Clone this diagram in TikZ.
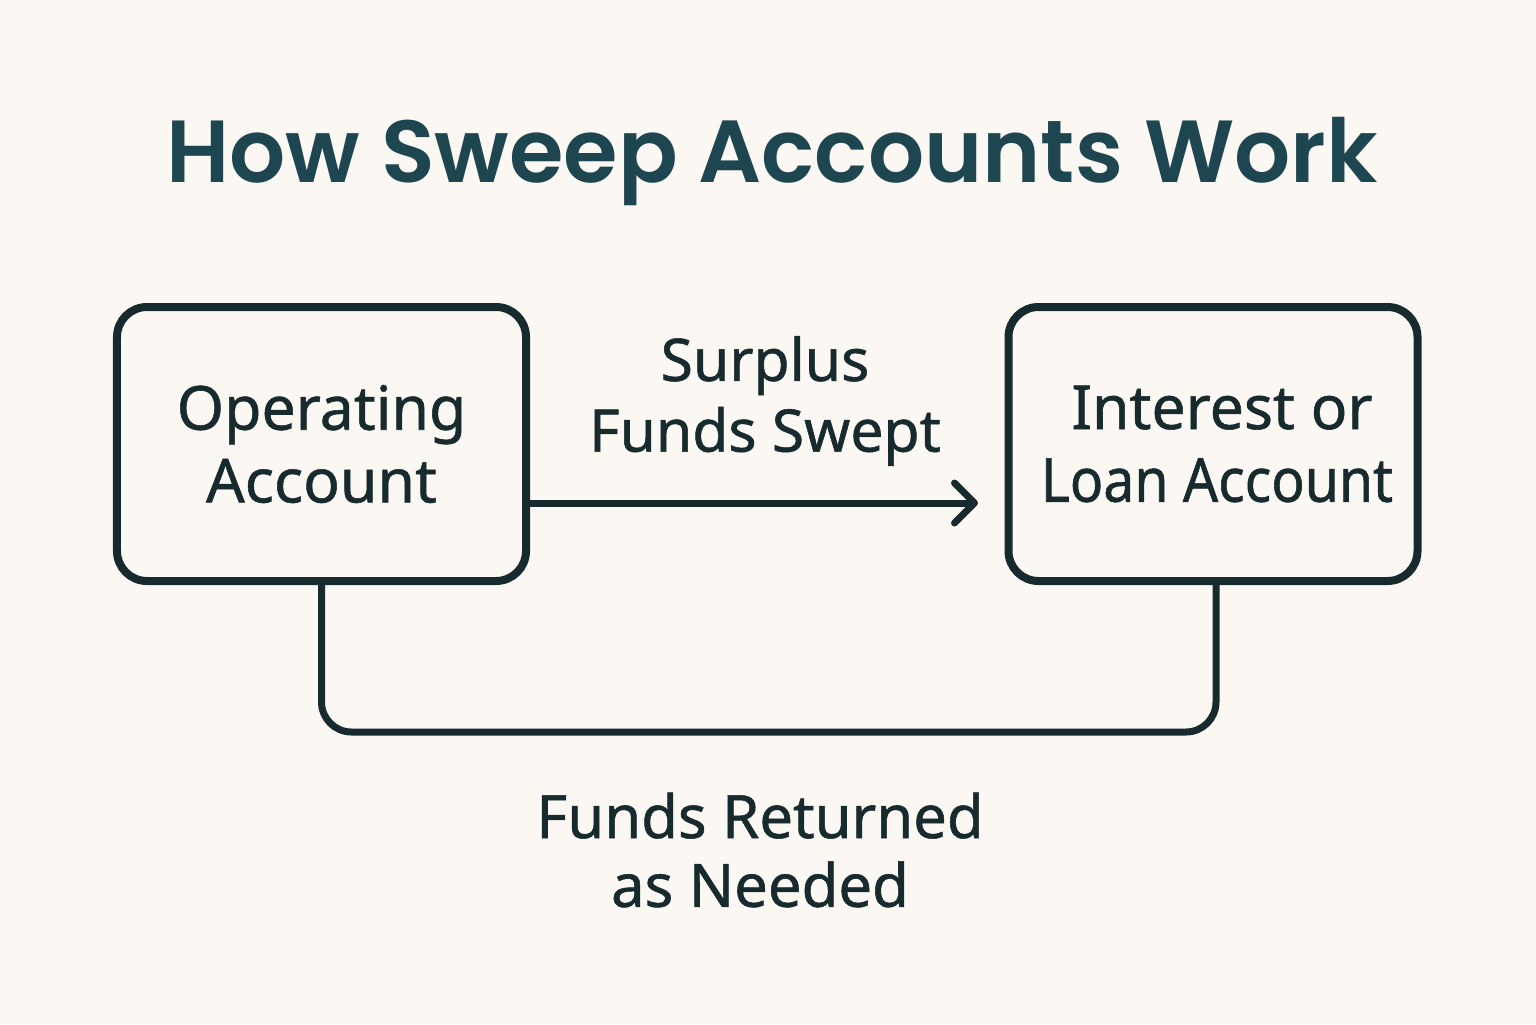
\documentclass[tikz,border=0pt]{standalone}
\usepackage{fontspec}
\setmainfont{Noto Sans}[FakeBold=0.9]
\newfontfamily\titlefont{Poppins}[UprightFont=* SemiBold]
\usetikzlibrary{arrows.meta,calc}
\definecolor{bgc}{HTML}{FBF8F3}
\definecolor{ink}{HTML}{172A2E}
\definecolor{titlec}{HTML}{1D4650}
\begin{document}
\begin{tikzpicture}[x=1bp,y=-1bp,
  acct/.style={draw=ink,line width=8bp,rounded corners=30bp,minimum width=409bp,minimum height=274bp,
    text=ink,align=center,font=\fontsize{61}{73}\selectfont,inner sep=0pt},
  flow/.style={draw=ink,line width=7bp,line cap=round,line join=round},
  lbl/.style={text=ink,align=center,font=\fontsize{59}{71}\selectfont,inner sep=0pt}]
\useasboundingbox[fill=bgc] (0,0) rectangle (1536,1024);
\node[text=titlec,font=\titlefont\fontsize{88.5}{100}\selectfont,inner sep=0pt] (title) at (772,162) {How Sweep Accounts Work};
\node[acct] (op) at (321.5,444) {Operating\\Account};
\node[acct] (int) at (1213,444) {\hspace*{18bp}Interest or\\{\addfontfeature{FakeStretch=0.91}\hspace*{8bp}Loan Account}};
\coordinate (tip) at (978,503);
\draw[flow,-{Straight Barb[length=20bp,width=40bp,line cap=round,line join=round]}] ($(op.east)+(0,59)$) -- (tip);
\draw[flow,rounded corners=30bp] (op.south) -- ($(op.south)+(0,147)$) -- ($(int.south)+(3,147)$) -- ($(int.south)+(3,0)$);
\node[lbl] (sweep) at (765,401) {Surplus\\Funds Swept};
\node[lbl,font=\fontsize{60}{69}\selectfont] (ret) at (760,850) {Funds Returned\\as Needed};
\end{tikzpicture}
\end{document}
